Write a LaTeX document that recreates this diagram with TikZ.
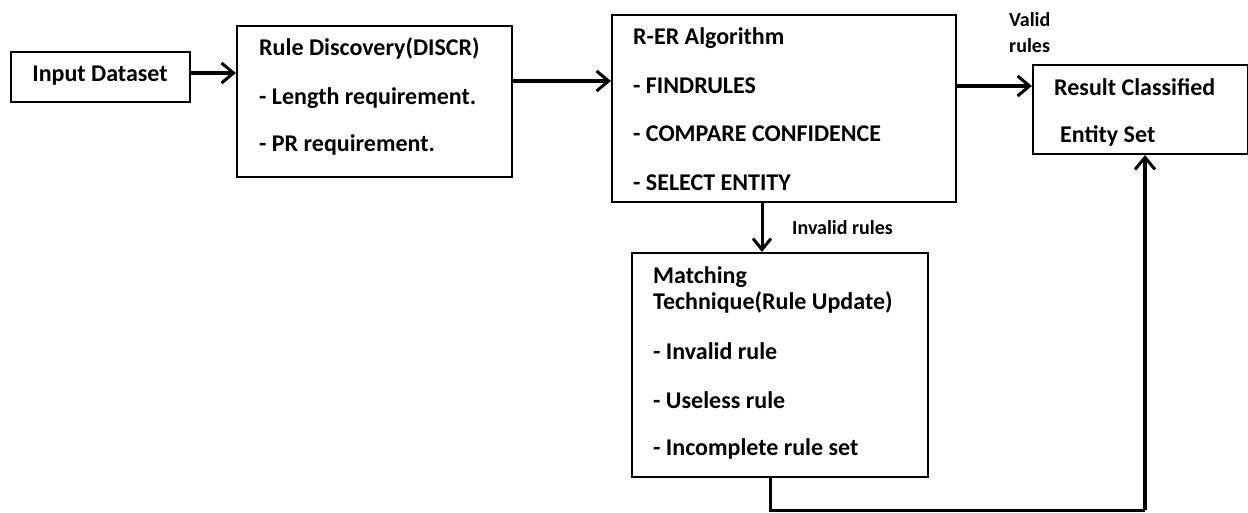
\documentclass[tikz,border=0pt]{standalone}
\usepackage{fontspec}
\setmainfont{Carlito}
\usetikzlibrary{arrows.meta}
\begin{document}
\begin{tikzpicture}[x=1pt,y=-1pt,
  box/.style={draw,line width=2.2pt,inner sep=0pt},
  txt/.style={anchor=west,inner sep=0pt,font=\fontsize{24}{28}\selectfont\bfseries},
  lbl/.style={anchor=west,inner sep=0pt,font=\fontsize{20}{24}\selectfont\bfseries},
  conn/.style={line width=4pt,-{Straight Barb[length=12pt,width=20pt,line width=3pt]}},
  thinconn/.style={line width=3pt,-{Straight Barb[length=11pt,width=18pt,line width=3pt]}}]
\useasboundingbox (0,0) rectangle (1248,512);
% boxes
\node[box,minimum width=179pt,minimum height=50pt] (in) at (100.5,77) {};
\node[txt,anchor=center] at (100,76) {Input Dataset};
\node[box,minimum width=275pt,minimum height=151pt] (rd) at (374.5,101.5) {};
\node[txt] at (259,48) {Rule Discovery(DISCR)};
\node[txt] at (259,98) {- Length requirement.};
\node[txt] at (259,145) {- PR requirement.};
\node[box,minimum width=344pt,minimum height=187pt] (er) at (784,108.5) {};
\node[txt] at (633,38) {R-ER Algorithm};
\node[txt] at (633,86) {- FINDRULES};
\node[txt] at (633,134) {- COMPARE CONFIDENCE};
\node[txt] at (633,183) {- SELECT ENTITY};
\node[box,minimum width=215pt,minimum height=89pt] (res) at (1140.5,109.5) {};
\node[txt] at (1054,87) {Result Classified};
\node[txt] at (1060,136) {Entity Set};
\node[box,minimum width=296pt,minimum height=224pt] (mt) at (780,365) {};
\node[txt] at (653,277) {Matching};
\node[txt] at (653,302) {Technique(Rule Update)};
\node[txt] at (653,351) {- Invalid rule};
\node[txt] at (653,400) {- Useless rule};
\node[txt] at (653,449) {- Incomplete rule set};
% labels
\node[lbl] (valid) at (1009,20) {Valid};
\node[lbl] (rules) at (1009,46) {rules};
\node[lbl] (inv) at (792,228) {Invalid rules};
% connectors
\coordinate (c1) at (770,510);
\coordinate (c2) at (1145,510);
\draw[conn] (in.east |- 0,73) -- (rd.west |- 0,73);
\draw[conn] (rd.east |- 0,81) -- (er.west |- 0,81);
\draw[conn] (er.east |- 0,86) -- (res.west |- 0,86);
\draw[thinconn] (er.south -| 762,0) -- (mt.north -| 762,0);
\draw[line width=3pt] (mt.south -| 770,0) -- (c1) -- (c2);
\draw[conn] (c2) -- (res.south -| 1145,0);
\end{tikzpicture}
\end{document}
